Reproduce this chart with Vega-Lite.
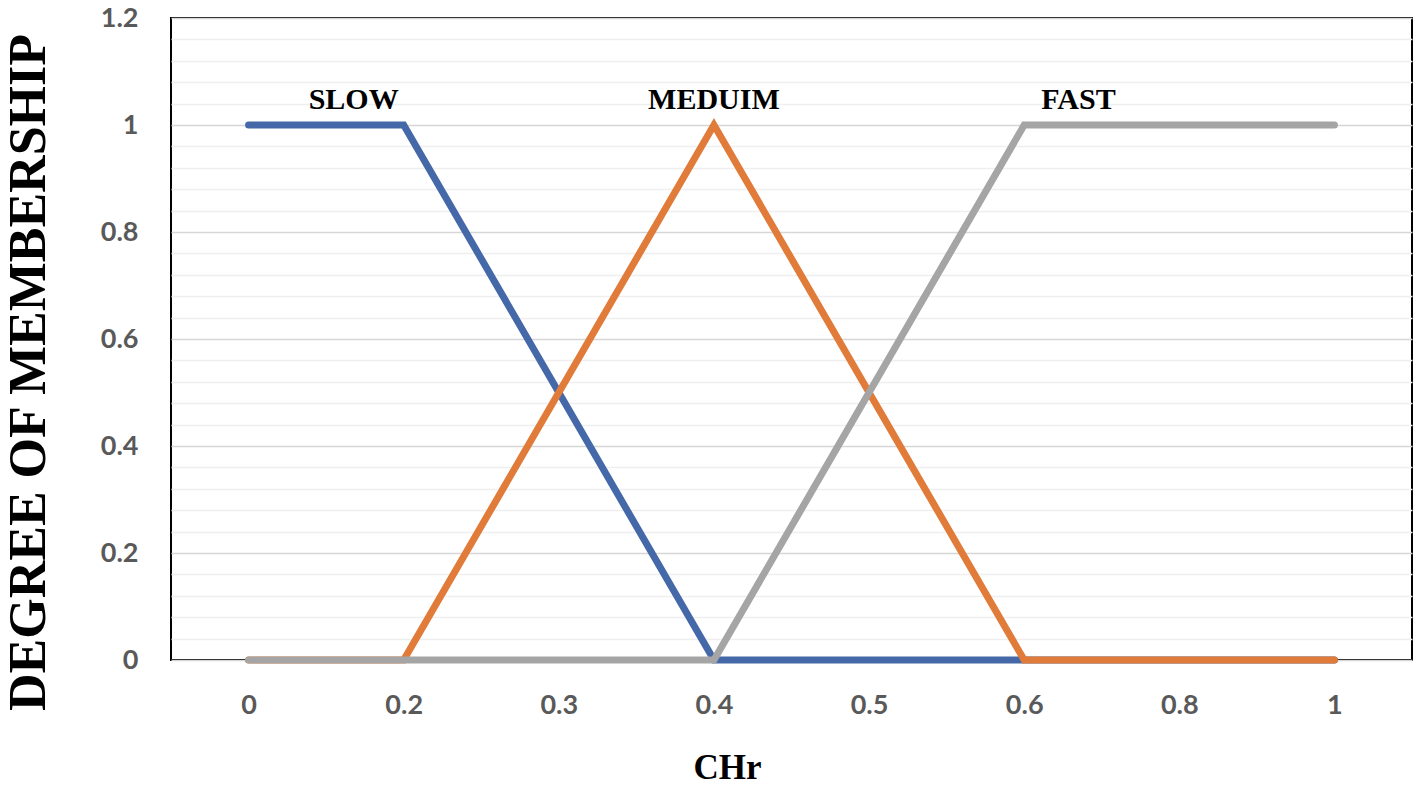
{
  "$schema": "https://vega.github.io/schema/vega-lite/v6.json",
  "autosize": {"type": "none"},
  "width": 1241,
  "height": 642,
  "padding": {"left": 171, "top": 18, "right": 13, "bottom": 126},
  "background": "white",
  "config": {
    "view": {"stroke": "#000000", "strokeWidth": 2}
  },
  "data": {
    "values": [
      {"CHr": "0", "set": "SLOW", "degree": 1},
      {"CHr": "0.2", "set": "SLOW", "degree": 1},
      {"CHr": "0.3", "set": "SLOW", "degree": 0.5},
      {"CHr": "0.4", "set": "SLOW", "degree": 0},
      {"CHr": "0.5", "set": "SLOW", "degree": 0},
      {"CHr": "0.6", "set": "SLOW", "degree": 0},
      {"CHr": "0.8", "set": "SLOW", "degree": 0},
      {"CHr": "1", "set": "SLOW", "degree": 0},
      {"CHr": "0", "set": "MEDUIM", "degree": 0},
      {"CHr": "0.2", "set": "MEDUIM", "degree": 0},
      {"CHr": "0.3", "set": "MEDUIM", "degree": 0.5},
      {"CHr": "0.4", "set": "MEDUIM", "degree": 1},
      {"CHr": "0.5", "set": "MEDUIM", "degree": 0.5},
      {"CHr": "0.6", "set": "MEDUIM", "degree": 0},
      {"CHr": "0.8", "set": "MEDUIM", "degree": 0},
      {"CHr": "1", "set": "MEDUIM", "degree": 0},
      {"CHr": "0", "set": "FAST", "degree": 0},
      {"CHr": "0.2", "set": "FAST", "degree": 0},
      {"CHr": "0.3", "set": "FAST", "degree": 0},
      {"CHr": "0.4", "set": "FAST", "degree": 0},
      {"CHr": "0.5", "set": "FAST", "degree": 0.5},
      {"CHr": "0.6", "set": "FAST", "degree": 1},
      {"CHr": "0.8", "set": "FAST", "degree": 1},
      {"CHr": "1", "set": "FAST", "degree": 1}
    ]
  },
  "encoding": {
    "x": {
      "field": "CHr",
      "type": "ordinal",
      "sort": null,
      "scale": {"type": "point", "padding": 0.5, "domain": ["0", "0.2", "0.3", "0.4", "0.5", "0.6", "0.8", "1"]},
      "axis": {
        "title": "CHr",
        "titleFont": "Liberation Serif",
        "titleFontSize": 35,
        "titleFontWeight": "bold",
        "titleColor": "#000000",
        "titleAlign": "center",
        "titleBaseline": "alphabetic",
        "titleX": 556,
        "titleY": 118,
        "labelAngle": 0,
        "labelFont": "Lato",
        "labelFontSize": 27,
        "labelFontWeight": "bold",
        "labelColor": "#595959",
        "labelPadding": 32,
        "ticks": false,
        "domain": false,
        "grid": false
      }
    },
    "y": {
      "field": "degree",
      "type": "quantitative",
      "scale": {"domain": [0, 1.2], "nice": false, "zero": true},
      "axis": {
        "title": "DEGREE OF MEMBERSHIP",
        "titleFont": "Liberation Serif",
        "titleFontSize": 52,
        "titleFontWeight": "bold",
        "titleColor": "#000000",
        "titleAlign": "center",
        "titleBaseline": "middle",
        "titleX": -143,
        "titleY": 354,
        "values": [0, 0.04, 0.08, 0.12, 0.16, 0.2, 0.24, 0.28, 0.32, 0.36, 0.4, 0.44, 0.48, 0.52, 0.56, 0.6, 0.64, 0.68, 0.72, 0.76, 0.8, 0.84, 0.88, 0.92, 0.96, 1, 1.04, 1.08, 1.12, 1.16, 1.2],
        "labelExpr": "abs(datum.value*5 - round(datum.value*5)) < 0.001 ? format(datum.value, '~g') : ''",
        "labelFont": "Lato",
        "labelFontSize": 27,
        "labelFontWeight": "bold",
        "labelColor": "#595959",
        "labelPadding": 33,
        "ticks": false,
        "domain": false,
        "grid": true,
        "gridWidth": 1.5,
        "gridColor": {
          "condition": {"test": "abs(datum.value*5 - round(datum.value*5)) < 0.001", "value": "#d6d6d6"},
          "value": "#efefef"
        }
      }
    }
  },
  "layer": [
    {
      "transform": [{"filter": "datum.set === 'SLOW'"}],
      "mark": {"type": "line", "color": "#4569a8", "strokeWidth": 7, "strokeCap": "round"}
    },
    {
      "transform": [{"filter": "datum.set === 'MEDUIM'"}],
      "mark": {"type": "line", "color": "#e07b39", "strokeWidth": 7, "strokeCap": "round"}
    },
    {
      "transform": [{"filter": "datum.set === 'FAST'"}],
      "mark": {"type": "line", "color": "#a5a5a5", "strokeWidth": 7, "strokeCap": "round"}
    },
    {
      "data": {"values": [{"label": "SLOW", "CHr": "0.2", "degree": 1.03}]},
      "mark": {"type": "text", "align": "right", "baseline": "alphabetic", "dx": -5, "font": "Liberation Serif", "fontWeight": "bold", "fontSize": 30, "color": "#000000"},
      "encoding": {"text": {"field": "label"}}
    },
    {
      "data": {"values": [{"label": "MEDUIM", "CHr": "0.4", "degree": 1.03}]},
      "mark": {"type": "text", "align": "center", "baseline": "alphabetic", "font": "Liberation Serif", "fontWeight": "bold", "fontSize": 30, "color": "#000000"},
      "encoding": {"text": {"field": "label"}}
    },
    {
      "data": {"values": [{"label": "FAST", "CHr": "0.6", "degree": 1.03}]},
      "mark": {"type": "text", "align": "left", "baseline": "alphabetic", "dx": 17, "font": "Liberation Serif", "fontWeight": "bold", "fontSize": 30, "color": "#000000"},
      "encoding": {"text": {"field": "label"}}
    }
  ]
}
